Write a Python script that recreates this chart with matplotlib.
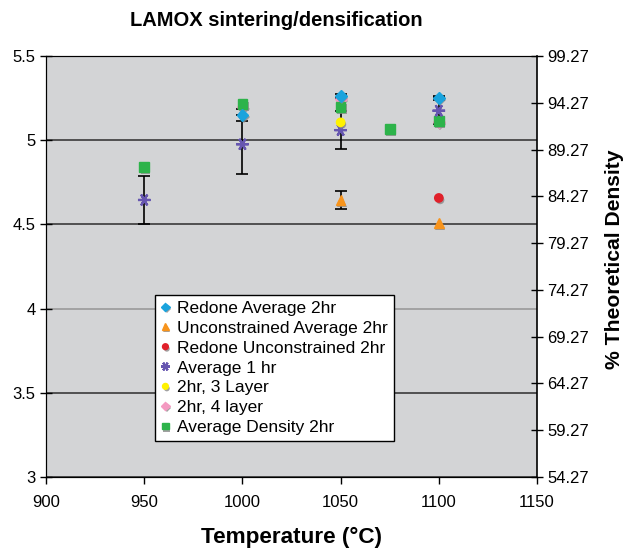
import matplotlib
matplotlib.use('Agg')
import matplotlib.pyplot as plt
import matplotlib.patheffects as pe
import numpy as np

plt.rcParams['font.family'] = ['Liberation Sans', 'DejaVu Sans']

# data (density, g/cm3)
redone_x = [1000, 1050, 1100]
redone_y = [5.15, 5.262, 5.25]
redone_err = [0.035, 0.01, 0.01]

unc_x = [1050, 1100]
unc_y = [4.645, 4.51]
unc_err = [0.055, 0.0]

redone_unc_x = [1100]
redone_unc_y = [4.657]

avg1_x = [950, 1000, 1050, 1100]
avg1_y = [4.645, 4.976, 5.06, 5.175]
avg1_err = [0.145, 0.176, 0.115, 0.08]

layer3_x = [1050]
layer3_y = [5.106]

layer4_x = [1000, 1050, 1100]
layer4_y = [5.2, 5.245, 5.11]

avgdens_x = [950, 1000, 1050, 1075, 1100]
avgdens_y = [4.84, 5.213, 5.197, 5.066, 5.116]

right_ticks = [54.27, 59.27, 64.27, 69.27, 74.27, 79.27, 84.27, 89.27, 94.27, 99.27]

fig = plt.figure(figsize=(6.27, 5.48), dpi=100)
ax = fig.add_axes([0.0734, 0.1296, 0.7831, 0.7682])
ax.set_facecolor('#d3d4d6')

shadow = [pe.SimplePatchShadow(offset=(1, -1.5), shadow_rgbFace='#8a8a8a', alpha=0.8), pe.Normal()]

ekw = dict(ecolor='black', elinewidth=1.2, capsize=4, capthick=1.2, zorder=2)

ax.errorbar(avg1_x, avg1_y, yerr=avg1_err, fmt='none', **ekw)
ax.errorbar(redone_x, redone_y, yerr=redone_err, fmt='none', **ekw)
# only the 1050 point of the unconstrained series has an error bar
ax.errorbar(unc_x[:1], unc_y[:1], yerr=unc_err[:1], fmt='none', **ekw)

ax.plot(redone_x, redone_y, 'D', color='#1aa3dd', ms=6, ls='none',
        label='Redone Average 2hr', zorder=4, path_effects=shadow)
ax.plot(unc_x, unc_y, '^', color='#f7941d', ms=7, ls='none',
        label='Unconstrained Average 2hr', zorder=4, path_effects=shadow)
ax.plot(redone_unc_x, redone_unc_y, 'o', color='#e0202a', ms=6, ls='none',
        label='Redone Unconstrained 2hr', zorder=4, path_effects=shadow)
ax.plot(avg1_x, avg1_y, marker=(6, 2, 90), color='#6656b0', ms=9, mew=1.6, ls='none',
        label='Average 1 hr', zorder=4, path_effects=shadow)
ax.plot(layer3_x, layer3_y, 'o', color='#fff200', ms=6, ls='none',
        label='2hr, 3 Layer', zorder=4, path_effects=shadow)
ax.plot(layer4_x, layer4_y, 'D', color='#f49ac1', ms=6, ls='none',
        label='2hr, 4 layer', zorder=3, path_effects=shadow)
ax.plot(avgdens_x, avgdens_y, 's', color='#2db34a', ms=7, ls='none',
        label='Average Density 2hr', zorder=3, path_effects=shadow)

ax.set_xlim(900, 1150)
ax.set_ylim(3, 5.5)
ax.set_xticks(np.arange(900, 1151, 50))
ax.set_yticks(np.arange(3, 5.51, 0.5))
ax.set_yticklabels(['3', '3.5', '4', '4.5', '5', '5.5'])
ax.yaxis.grid(True, color='#3a3a3a', linewidth=1.2, zorder=0)
ax.set_axisbelow(True)
ax.get_ygridlines()[2].set_color('#9a9a9a')
ax.tick_params(axis='y', direction='inout', length=8, labelsize=12, width=1)
ax.tick_params(axis='x', direction='out', length=5, labelsize=12, width=1, pad=8)
ax.spines['top'].set_color('#3a3a3a')
ax.spines['right'].set_visible(False)

ax2 = ax.twinx()
ax2.set_ylim(54.27, 99.27)
ax2.set_yticks(right_ticks)
ax2.set_yticklabels(['%.2f' % v for v in right_ticks])
ax2.tick_params(axis='y', direction='inout', length=8, labelsize=12, width=1)
ax2.spines['right'].set_linewidth(1.2)
ax2.set_ylabel('% Theoretical Density', fontsize=15.2, fontweight='bold')
ax2.yaxis.set_label_coords(1.138, 0.518)

ax.set_xlabel('Temperature (°C)', fontsize=16.2, fontweight='bold', labelpad=12)
fig.text(0.44, 0.962, 'LAMOX sintering/densification', fontsize=14.5,
         fontweight='bold', ha='center', va='center')

leg = ax.legend(loc='lower left', bbox_to_anchor=(0.222, 0.085), fontsize=12.5,
                frameon=True, fancybox=False, edgecolor='black', framealpha=1,
                handlelength=0.5, handletextpad=0.4, labelspacing=0.27,
                borderpad=0.35, borderaxespad=0, markerscale=0.7)
leg.get_frame().set_linewidth(1)

fig.savefig('out.png', dpi=100)
